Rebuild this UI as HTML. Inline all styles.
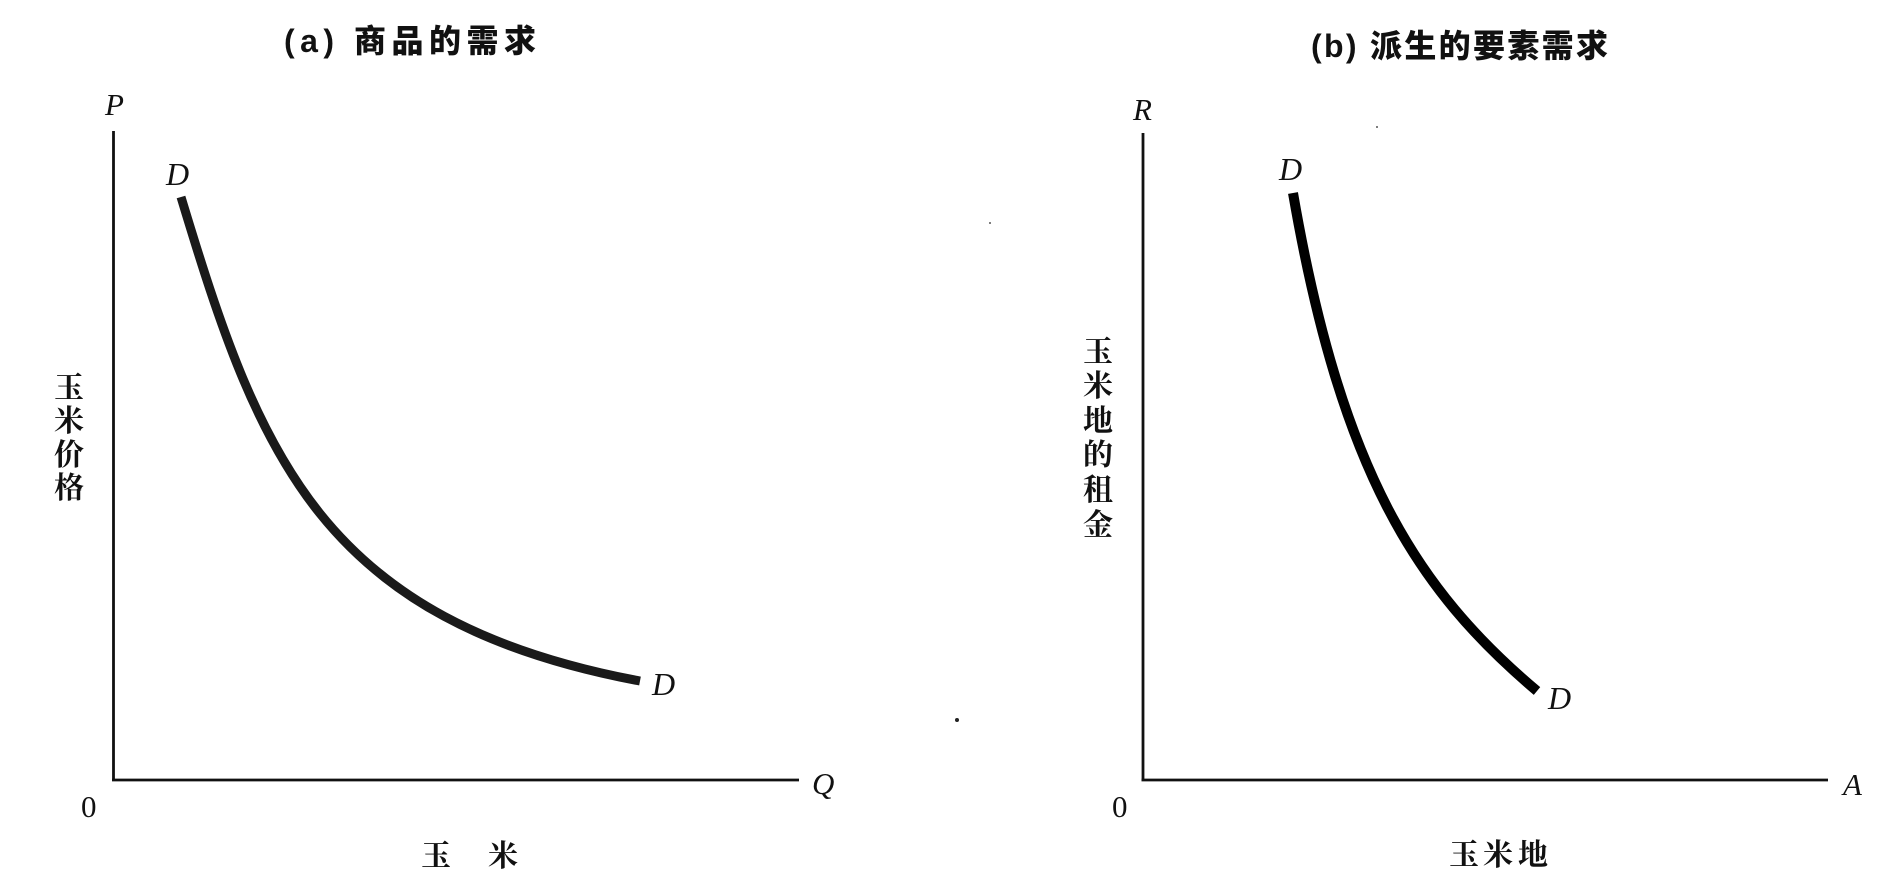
<!DOCTYPE html>
<html>
<head>
<meta charset="utf-8">
<style>
  html, body { margin: 0; padding: 0; background: #ffffff; }
  body { width: 1903px; height: 895px; overflow: hidden; }
  svg { display: block; }
  .title { font-family: "Liberation Sans", "Noto Sans CJK SC", sans-serif; font-weight: 900; font-size: 32px; fill: #111; }
  .ital { font-family: "Liberation Serif", serif; font-style: italic; font-size: 31px; fill: #111; }
  .num { font-family: "Liberation Serif", serif; font-size: 31px; fill: #111; }
  .cjk { font-family: "Liberation Serif", "Noto Serif CJK SC", "Noto Sans CJK SC", serif; font-weight: 700; font-size: 30px; fill: #111; }
</style>
</head>
<body>
<svg width="1903" height="895" viewBox="0 0 1903 895" xmlns="http://www.w3.org/2000/svg">
  <rect x="0" y="0" width="1903" height="895" fill="#ffffff"/>

  <!-- ===== Panel (a) ===== -->
  <text class="title" x="284" y="52" textLength="252" lengthAdjust="spacing">(a) 商品的需求</text>

  <!-- axes -->
  <line x1="113.5" y1="131" x2="113.5" y2="781" stroke="#111" stroke-width="2.8"/>
  <line x1="112" y1="780" x2="799" y2="780" stroke="#111" stroke-width="2.8"/>

  <!-- demand curve -->
  <path d="M181,197 C259,455 320,621 640,681" fill="none" stroke="#1a1a1a" stroke-width="9"/>

  <!-- labels -->
  <text class="ital" x="105" y="115">P</text>
  <text class="ital" x="166" y="185" style="font-size:32px">D</text>
  <text class="ital" x="652" y="695" style="font-size:32px">D</text>
  <text class="ital" x="812" y="794">Q</text>
  <text class="num" x="81" y="817">0</text>

  <!-- y label (vertical) -->
  <text class="cjk" x="69" y="398" text-anchor="middle">玉</text>
  <text class="cjk" x="69" y="431" text-anchor="middle">米</text>
  <text class="cjk" x="69" y="465" text-anchor="middle">价</text>
  <text class="cjk" x="69" y="498" text-anchor="middle">格</text>

  <!-- x label -->
  <text class="cjk" x="436" y="866" text-anchor="middle">玉</text>
  <text class="cjk" x="503" y="866" text-anchor="middle">米</text>

  <!-- ===== Panel (b) ===== -->
  <text class="title" x="1311" y="57" textLength="297" lengthAdjust="spacing">(b) 派生的要素需求</text>

  <!-- axes -->
  <line x1="1143" y1="133" x2="1143" y2="781" stroke="#111" stroke-width="2.8"/>
  <line x1="1141.5" y1="780" x2="1828" y2="780" stroke="#111" stroke-width="2.8"/>

  <!-- demand curve -->
  <path d="M1293,193 C1341,471 1416,589 1537,691" fill="none" stroke="#000" stroke-width="10"/>

  <!-- labels -->
  <text class="ital" x="1133" y="120">R</text>
  <text class="ital" x="1279" y="180" style="font-size:32px">D</text>
  <text class="ital" x="1548" y="709" style="font-size:32px">D</text>
  <text class="ital" x="1843" y="795">A</text>
  <text class="num" x="1112" y="817">0</text>

  <!-- y label (vertical) -->
  <text class="cjk" x="1098" y="362" text-anchor="middle">玉</text>
  <text class="cjk" x="1098" y="396" text-anchor="middle">米</text>
  <text class="cjk" x="1098" y="431" text-anchor="middle">地</text>
  <text class="cjk" x="1098" y="465" text-anchor="middle">的</text>
  <text class="cjk" x="1098" y="500" text-anchor="middle">租</text>
  <text class="cjk" x="1098" y="535" text-anchor="middle">金</text>

  <!-- x label -->
  <text class="cjk" x="1464" y="865" text-anchor="middle">玉</text>
  <text class="cjk" x="1498" y="865" text-anchor="middle">米</text>
  <text class="cjk" x="1533" y="865" text-anchor="middle">地</text>

  <!-- small scan specks -->
  <circle cx="957" cy="720" r="2" fill="#222"/>
  <circle cx="990" cy="223" r="1" fill="#555"/>
  <circle cx="1377" cy="127" r="1" fill="#555"/>
</svg>
</body>
</html>
